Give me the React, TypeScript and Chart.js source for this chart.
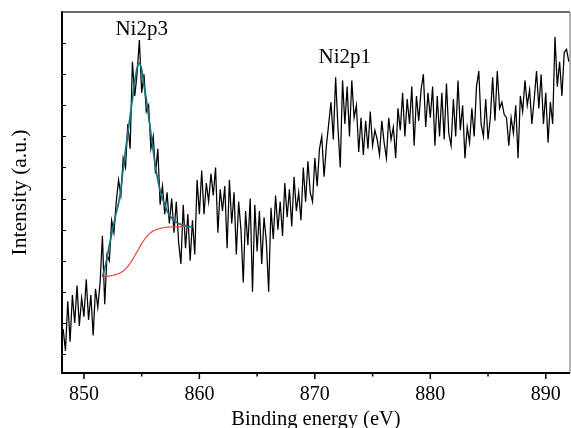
import React, { useEffect, useRef } from "react";
import { Chart, registerables } from "chart.js";

Chart.register(...registerables);

// Binding energy grid of the measured spectrum (eV)
const ENERGY_START = 848.2;
const ENERGY_STEP = 0.2;
// Measured intensity (a.u.), one value per energy step from 848.2 to 892.0 eV
const SPECTRUM = [
  0.8, 0.1, 1.7, 0.4, 1.9, 1.0, 2.2, 0.9, 1.8, 1.2,
  2.4, 1.1, 1.9, 0.6, 2.1, 1.5, 2.3, 3.8, 1.6, 3.2,
  3.0, 4.3, 3.9, 4.9, 5.6, 5.1, 6.3, 6.0, 7.4, 6.6,
  9.4, 8.3, 9.0, 10.1, 8.4, 9.0, 7.8, 8.0, 6.6, 7.0,
  5.8, 6.6, 4.8, 5.4, 4.5, 5.2, 4.2, 5.0, 3.9, 4.9,
  3.6, 2.9, 4.8, 3.4, 4.5, 3.0, 4.3, 3.2, 5.6, 4.5,
  5.9, 4.5, 5.5, 4.9, 5.8, 5.1, 6.0, 3.9, 5.3, 4.6,
  5.4, 3.4, 5.6, 4.2, 5.2, 3.2, 4.9, 4.0, 2.3, 4.6,
  3.5, 5.0, 2.0, 4.8, 3.3, 4.6, 2.9, 4.4, 3.6, 2.0,
  4.7, 3.7, 5.1, 4.0, 4.9, 3.8, 5.5, 4.4, 5.3, 4.1,
  5.7, 4.6, 5.2, 4.3, 6.0, 4.9, 6.2, 5.2, 4.9, 6.3,
  5.4, 6.6, 7.0, 5.7, 6.7, 7.4, 8.1, 6.9, 8.9, 7.3,
  6.0, 8.8, 7.4, 8.6, 7.0, 8.8, 7.6, 8.0, 6.5, 7.6,
  6.4, 7.5, 6.6, 7.8, 6.7, 7.2, 6.9, 6.4, 7.5, 6.8,
  6.3, 7.6, 6.9, 7.3, 6.3, 7.9, 7.2, 8.4, 7.0, 8.2,
  7.4, 8.6, 6.7, 8.3, 7.5, 8.5, 9.0, 7.3, 8.4, 7.6,
  8.6, 6.7, 8.3, 7.0, 8.4, 6.9, 8.7, 7.1, 6.7, 8.2,
  7.0, 8.8, 7.2, 8.0, 6.3, 7.3, 6.8, 7.9, 7.0, 8.6,
  9.1, 7.4, 7.0, 8.2, 6.9, 7.6, 8.9, 7.5, 9.1, 7.9,
  8.1, 7.7, 7.6, 6.7, 7.6, 7.1, 8.0, 6.3, 8.3, 7.8,
  8.8, 8.0, 8.5, 7.4, 8.2, 9.1, 7.9, 9.0, 7.4, 8.4,
  6.8, 8.1, 7.4, 10.2, 8.6, 9.4, 8.3, 9.7, 9.8, 9.4,
];

// Fitted Ni2p3 envelope and Shirley-type background, 851.6 to 859.4 eV
const FIT_START = 851.6;
const FIT_STEP = 0.2;
const FIT_ENVELOPE = [
  2.48, 2.75, 3.1, 3.5, 3.85, 4.2, 4.55, 4.85, 5.3, 5.95,
  6.55, 7.1, 7.65, 8.2, 8.75, 9.2, 9.36, 9.15, 8.65, 8.2,
  7.65, 7.1, 6.55, 6.0, 5.6, 5.25, 5.0, 4.8, 4.6, 4.47,
  4.38, 4.3, 4.24, 4.2, 4.17, 4.15, 4.13, 4.11, 4.1, 4.1,
];
const BACKGROUND = [
  2.49, 2.49, 2.5, 2.51, 2.52, 2.54, 2.56, 2.59, 2.62, 2.67,
  2.74, 2.82, 2.92, 3.03, 3.16, 3.29, 3.42, 3.55, 3.66, 3.76,
  3.84, 3.91, 3.96, 3.99, 4.02, 4.04, 4.06, 4.07, 4.08, 4.08,
  4.09, 4.09, 4.09, 4.1, 4.1, 4.1, 4.1, 4.1, 4.1, 4.1,
];

const X_TICKS = [850, 860, 870, 880, 890];
const X_MINOR_TICKS = [855, 865, 875, 885];
const Y_TICKS = [0, 1, 2, 3, 4, 5, 6, 7, 8, 9, 10];
const X_MIN = 848.1;
const X_MAX = 892.1;
const Y_MIN = -0.61;
const Y_MAX = 11.0;

const PEAK_LABELS = [
  { text: "Ni2p3", x: 855.0, y: 10.25 },
  { text: "Ni2p1", x: 872.6, y: 9.35 },
];

const FONT = "'Liberation Serif', 'Times New Roman', serif";

const toPoints = (vals: number[], start: number, step: number) =>
  vals.map((y, i) => ({ x: +(start + i * step).toFixed(3), y }));

const framePlugin = {
  id: "frame",
  afterDatasetsDraw(chart: any) {
    const { ctx, chartArea } = chart;
    const { left, right, top, bottom } = chartArea;
    const xs = chart.scales.x;
    const ys = chart.scales.y;
    ctx.save();
    // peak labels
    ctx.fillStyle = "#000";
    ctx.font = `21px ${FONT}`;
    ctx.textAlign = "center";
    ctx.textBaseline = "alphabetic";
    PEAK_LABELS.forEach((l) => {
      ctx.fillText(l.text, xs.getPixelForValue(l.x), ys.getPixelForValue(l.y));
    });
    // top & right frame
    ctx.lineCap = "butt";
    ctx.strokeStyle = "#3c3c3c";
    ctx.lineWidth = 1.5;
    ctx.beginPath();
    ctx.moveTo(left, top);
    ctx.lineTo(right, top);
    ctx.stroke();
    ctx.strokeStyle = "#808080";
    ctx.lineWidth = 1.2;
    ctx.beginPath();
    ctx.moveTo(right, top);
    ctx.lineTo(right, bottom);
    ctx.stroke();
    // left & bottom axes
    ctx.strokeStyle = "#000";
    ctx.lineWidth = 2;
    ctx.beginPath();
    ctx.moveTo(left, top - 0.75);
    ctx.lineTo(left, bottom);
    ctx.lineTo(right, bottom);
    ctx.stroke();
    // y ticks (inside)
    ctx.lineWidth = 1.2;
    ctx.beginPath();
    Y_TICKS.forEach((v) => {
      const y = Math.round(ys.getPixelForValue(v)) + 0.5;
      ctx.moveTo(left, y);
      ctx.lineTo(left + 4, y);
    });
    ctx.stroke();
    // x ticks (outside)
    ctx.lineWidth = 1.5;
    ctx.beginPath();
    X_TICKS.forEach((v) => {
      const x = xs.getPixelForValue(v);
      ctx.moveTo(x, bottom);
      ctx.lineTo(x, bottom + 6);
    });
    X_MINOR_TICKS.forEach((v) => {
      const x = xs.getPixelForValue(v);
      ctx.moveTo(x, bottom);
      ctx.lineTo(x, bottom + 3.5);
    });
    ctx.stroke();
    ctx.restore();
  },
};

export default function App() {
  const canvasRef = useRef<HTMLCanvasElement | null>(null);

  useEffect(() => {
    document.body.style.margin = "0";
    const canvas = canvasRef.current;
    if (!canvas) return;
    const chart = new Chart(canvas, {
      type: "line",
      data: {
        datasets: [
          {
            label: "Fit",
            data: toPoints(FIT_ENVELOPE, FIT_START, FIT_STEP),
            borderColor: "#137585",
            borderWidth: 1.7,
            pointRadius: 0,
            tension: 0.3,
            order: 0,
          },
          {
            label: "Background",
            data: toPoints(BACKGROUND, FIT_START, FIT_STEP),
            borderColor: "#e8473c",
            borderWidth: 1.2,
            pointRadius: 0,
            tension: 0.3,
            order: 1,
          },
          {
            label: "Spectrum",
            data: toPoints(SPECTRUM, ENERGY_START, ENERGY_STEP),
            borderColor: "#000000",
            borderWidth: 1.25,
            pointRadius: 0,
            tension: 0,
            order: 2,
          },
        ],
      },
      options: {
        responsive: false,
        animation: false,
        parsing: true,
        layout: { padding: { top: 12, right: 1, left: 0, bottom: 0 } },
        plugins: { legend: { display: false }, tooltip: { enabled: false } },
        scales: {
          x: {
            type: "linear",
            min: X_MIN,
            max: X_MAX,
            afterBuildTicks: (scale: any) => {
              scale.ticks = X_TICKS.map((v) => ({ value: v }));
            },
            afterFit: (scale: any) => {
              scale.height = 55;
            },
            grid: { display: false, drawTicks: false },
            border: { display: false },
            ticks: {
              padding: 10,
              color: "#000",
              font: { family: FONT, size: 20 },
              maxRotation: 0,
              autoSkip: false,
              callback: (v: any) => String(v),
            },
            title: {
              display: true,
              text: "Binding energy (eV)",
              color: "#000",
              font: { family: FONT, size: 20.5 },
              padding: { top: 0, bottom: -4 },
            },
          },
          y: {
            type: "linear",
            min: Y_MIN,
            max: Y_MAX,
            afterBuildTicks: (scale: any) => {
              scale.ticks = Y_TICKS.map((v) => ({ value: v }));
            },
            afterFit: (scale: any) => {
              scale.width = 62;
            },
            grid: { display: false, drawTicks: false },
            border: { display: false },
            ticks: { display: false },
            title: {
              display: true,
              text: "Intensity (a.u.)",
              color: "#000",
              font: { family: FONT, size: 21.5 },
              padding: { top: 7, bottom: 0 },
            },
          },
        },
      },
      plugins: [framePlugin],
    });
    return () => chart.destroy();
  }, []);

  return (
    <div style={{ width: 571, height: 428, background: "#fff" }}>
      <canvas ref={canvasRef} width={571} height={428} />
    </div>
  );
}
